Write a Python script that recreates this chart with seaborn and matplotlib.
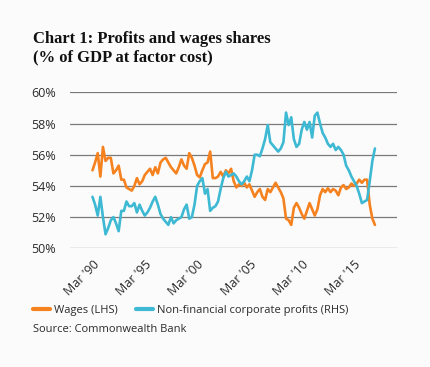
import pandas as pd
import numpy as np
import matplotlib
matplotlib.use("Agg")
import matplotlib.pyplot as plt
from matplotlib.lines import Line2D
import seaborn as sns

# ── Data (quarterly, Mar 1990 - Mar 2017) ──
wages = [
    55.0, 55.5, 56.1, 54.6, 56.5, 55.6, 55.8, 55.8, 54.8, 55.0,
    55.3, 54.4, 54.4, 53.9, 53.8, 53.7, 54.0, 54.5, 54.1, 54.3,
    54.7, 54.9, 55.1, 54.7, 55.2, 54.8, 55.5, 55.7, 55.8, 55.5,
    55.2, 55.0, 54.8, 55.2, 55.7, 55.3, 55.1, 56.1, 55.8, 55.3,
    54.7, 54.55, 55.0, 55.4, 55.5, 56.2, 54.5, 54.5, 54.6, 54.9,
    54.6, 55.0, 54.8, 55.1, 54.3, 53.9, 54.1, 54.0, 54.2, 53.9,
    54.1, 53.7, 53.3, 53.6, 53.8, 53.3, 53.1, 53.8, 53.6, 53.9,
    54.2, 53.9, 53.6, 53.2, 51.9, 51.8, 51.5, 52.6, 52.9, 52.6,
    52.2, 51.9, 52.4, 52.9, 52.5, 52.1, 52.5, 53.4, 53.8, 53.6,
    53.85, 53.6, 53.8, 53.7, 53.4, 53.9, 54.05, 53.8, 53.9, 54.15,
    54.0, 54.15, 54.4, 54.2, 54.4, 54.4, 52.8, 51.9, 51.5,
]
profits = [
    53.3, 52.8, 52.1, 53.3, 52.0, 50.9, 51.3, 51.8, 52.0, 51.6,
    51.1, 52.4, 52.4, 53.0, 52.7, 52.7, 52.9, 52.3, 52.8, 52.4,
    52.1, 52.3, 52.6, 53.0, 53.3, 52.8, 52.2, 51.9, 51.7, 51.5,
    52.0, 51.6, 51.8, 51.9, 52.0, 52.5, 52.8, 51.9, 52.0, 52.8,
    54.0, 54.3, 54.5, 53.5, 53.8, 52.4, 52.6, 52.7, 53.0, 53.8,
    54.5, 54.9, 54.6, 54.7, 54.8, 54.6, 54.3, 54.1, 54.3, 54.6,
    54.3, 55.0, 56.0, 56.0, 55.9, 56.4, 57.0, 57.9, 56.8, 56.6,
    56.4, 56.2, 56.4, 56.8, 58.7, 57.9, 58.4, 57.0, 56.5, 56.7,
    57.6, 58.1, 57.6, 58.1, 57.1, 58.5, 58.7, 58.0, 57.4, 57.1,
    56.7, 56.5, 56.7, 56.3, 56.5, 56.3, 56.0, 55.3, 55.0, 54.6,
    54.3, 54.0, 53.5, 52.9, 53.0, 53.1, 54.3, 55.6, 56.4,
]
dates = pd.date_range("1990-03-31", periods=len(wages), freq="QE-DEC")

tick_years = [1990, 1995, 2000, 2005, 2010, 2015]
tick_labels = ["Mar '90", "Mar '95", "Mar '00", "Mar '05", "Mar '10", "Mar '15"]
y_ticks = [50, 52, 54, 56, 58, 60]

series_names = ["Wages (LHS)", "Non-financial corporate profits (RHS)"]
colors = {"Wages (LHS)": "#f5821f", "Non-financial corporate profits (RHS)": "#3db9d3"}

df = pd.concat([
    pd.DataFrame({"date": dates, "value": wages, "series": series_names[0]}),
    pd.DataFrame({"date": dates, "value": profits, "series": series_names[1]}),
])

BG = "#fbfbfb"
sns.set_style("white")
plt.rcParams["font.family"] = ["Open Sans", "DejaVu Sans"]

fig = plt.figure(figsize=(4.30, 3.67), dpi=100, facecolor=BG)
ax = fig.add_axes([0.1628, 0.3234, 0.7597, 0.4251], facecolor=BG)

sns.lineplot(data=df, x="date", y="value", hue="series", palette=colors,
             linewidth=1.9, ax=ax, legend=False)

# ── Axes styling ───────────────────────────────────────────
ax.set_ylim(50, 60)
ax.set_yticks(y_ticks)
ax.set_yticklabels([f"{v}%" for v in y_ticks])
ax.yaxis.grid(True, color="#7a7a7a", linewidth=0.9)
ax.set_axisbelow(True)
for s in ax.spines.values():
    s.set_visible(False)

tick_dates = [pd.Timestamp(f"{y}-03-31") for y in tick_years]
x0 = pd.Timestamp("1990-03-31") - pd.Timedelta(days=int(2.15 * 365.25))
x1 = pd.Timestamp("1990-03-31") + pd.Timedelta(days=int(29.08 * 365.25))
ax.set_xlim(x0, x1)
ax.set_xticks(tick_dates)
ax.set_xticklabels(tick_labels, rotation=45, ha="right", va="top",
                   rotation_mode="anchor")
ax.tick_params(axis="x", length=4, width=0.9, color="#7a7a7a", pad=3,
               labelsize=9, labelcolor="#2b2b2b")
ax.tick_params(axis="y", length=0, pad=10, labelsize=9, labelcolor="#2b2b2b")
ax.set_xlabel("")
ax.set_ylabel("")

# ── Title ──────────────────────────────────────────────────
fig.text(33 / 430, 1 - 43 / 367, "Chart 1: Profits and wages shares",
         family="Liberation Serif", fontweight="bold", fontsize=12,
         color="#111111", ha="left", va="baseline")
fig.text(33 / 430, 1 - 61 / 367, "(% of GDP at factor cost)",
         family="Liberation Serif", fontweight="bold", fontsize=12,
         color="#111111", ha="left", va="baseline")

# ── Legend (one entry each, placed like the original) + source ──
for name, x_px in zip(series_names, [33, 136]):
    leg = fig.legend([Line2D([0], [0], color=colors[name], lw=3)], [name],
                     loc="center left", bbox_to_anchor=(x_px / 430, 1 - 310 / 367),
                     frameon=False, fontsize=8, handlelength=1.55,
                     handletextpad=0.35, borderpad=0, borderaxespad=0,
                     labelcolor="#2b2b2b")
fig.text(33 / 430, 1 - 329 / 367, "Source: Commonwealth Bank",
         fontsize=8, color="#2b2b2b", ha="left", va="center")

plt.savefig("out.png", dpi=100, facecolor=BG)
